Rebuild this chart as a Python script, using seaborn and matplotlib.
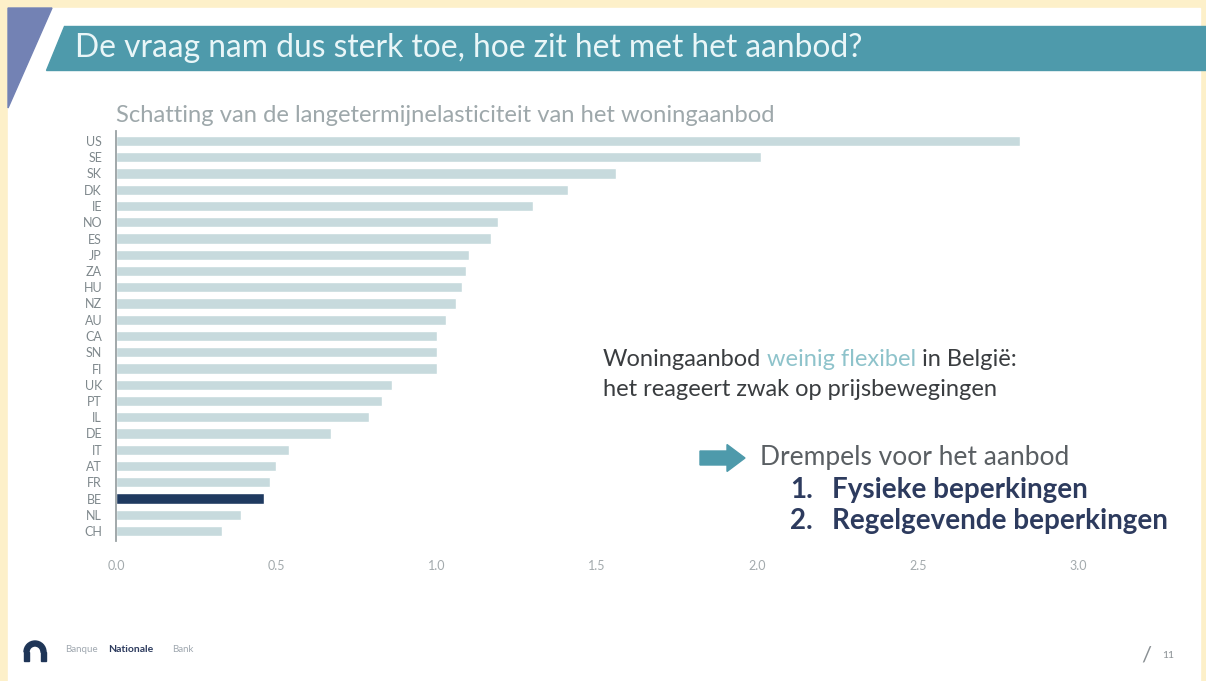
import matplotlib
matplotlib.use("Agg")
import matplotlib.pyplot as plt
import matplotlib.patches as mpatches
import seaborn as sns
import pandas as pd

# Long-run elasticity of housing supply per country
countries = ["US", "SE", "SK", "DK", "IE", "NO", "ES", "JP", "ZA", "HU", "NZ", "AU", "CA",
             "SN", "FI", "UK", "PT", "IL", "DE", "IT", "AT", "FR", "BE", "NL", "CH"]
elasticity = [2.82, 2.01, 1.56, 1.41, 1.30, 1.19, 1.17, 1.10, 1.09, 1.08, 1.06, 1.03, 1.00,
              1.00, 1.00, 0.86, 0.83, 0.79, 0.67, 0.54, 0.50, 0.48, 0.46, 0.39, 0.33]
x_ticks = [0.0, 0.5, 1.0, 1.5, 2.0, 2.5, 3.0]
x_tick_labels = ["0.0", "0.5", "1.0", "1.5", "2.0", "2.5", "3.0"]
highlight = "BE"

title = "De vraag nam dus sterk toe, hoe zit het met het aanbod?"
subtitle = "Schatting van de langetermijnelasticiteit van het woningaanbod"
note_line1 = [("Woningaanbod ", "#3a3d40"), ("weinig flexibel", "#8ec3cb"), (" in België:", "#3a3d40")]
note_line2 = "het reageert zwak op prijsbewegingen"
barrier_head = "Drempels voor het aanbod"
barriers = ["Fysieke beperkingen", "Regelgevende beperkingen"]

W, H = 1206, 681
sns.set_theme(style="white")
plt.rcParams["font.family"] = ["Lato", "DejaVu Sans"]
NARROW = ["Liberation Sans Narrow", "Lato", "DejaVu Sans"]

fig = plt.figure(figsize=(W / 100, H / 100), dpi=100)
fig.patch.set_facecolor("#fdf0c9")

# Slide background layer in pixel coordinates
bg = fig.add_axes([0, 0, 1, 1], zorder=0)
bg.set_xlim(0, W)
bg.set_ylim(H, 0)
bg.axis("off")
bg.add_patch(mpatches.Rectangle((8, 8), 1192, H - 8, color="white", zorder=0))
bg.add_patch(mpatches.Polygon([(8, 8), (52, 8), (8, 108)], closed=True,
                              color="#7382b4", zorder=1))
bg.add_patch(mpatches.Polygon([(64, 26), (W, 26), (W, 70), (46, 70)], closed=True,
                              color="#4e9aab", zorder=1))

renderer = fig.canvas.get_renderer()


def text_width(s, **kw):
    t = bg.text(0, 0, s, **kw)
    w = t.get_window_extent(renderer).width
    t.remove()
    return w


def fitted_size(s, target_w, size=12, **kw):
    return size * target_w / text_width(s, fontsize=size, **kw)


title_size = fitted_size(title, 785, family=NARROW)
bg.text(75, 48, title, fontsize=title_size, family=NARROW, color="#e9f6f8",
        va="center", ha="left", zorder=2)
sub_size = fitted_size(subtitle, 656)
bg.text(116, 116, subtitle, fontsize=sub_size, color="#9ea8ab", va="center", ha="left", zorder=2)

# Two-colour first note line, drawn run by run
note_size = fitted_size("".join(s for s, _ in note_line1), 413)
note_kw = dict(fontsize=note_size, va="center", ha="left", zorder=2)
space_w = text_width("x x", fontsize=note_size) - text_width("xx", fontsize=note_size)
x = 603
for s, c in note_line1:
    lead = len(s) - len(s.lstrip(" "))
    trail = len(s) - len(s.rstrip(" "))
    x += lead * space_w
    core = s.strip(" ")
    bg.text(x, 360, core, color=c, **note_kw)
    x += text_width(core, fontsize=note_size) + trail * space_w
bg.text(603, 389, note_line2, color="#3a3d40", **note_kw)

# Block arrow and barrier list
bg.add_patch(mpatches.FancyArrow(700, 458, 27, 0, width=14, head_width=27, head_length=18,
                                 length_includes_head=False, color="#4e9aab", zorder=2))
head_size = fitted_size(barrier_head, 308)
bg.text(760, 458, barrier_head, fontsize=head_size, color="#5a5f63", va="center", ha="left", zorder=2)
item_size = fitted_size(barriers[1], 334, fontweight="bold")
for i, item in enumerate(barriers):
    yy = 490 + i * 31
    bg.text(790, yy, f"{i + 1}.", fontsize=item_size, fontweight="bold", color="#2d3b5e",
            va="center", ha="left", zorder=2)
    bg.text(832, yy, item, fontsize=item_size, fontweight="bold", color="#2d3b5e",
            va="center", ha="left", zorder=2)

# Footer: logo and page number
bg.add_patch(mpatches.Wedge((35, 652), 11, 180, 360, width=5, color="#1f3557", zorder=2))
bg.add_patch(mpatches.Rectangle((24, 652), 5, 9, color="#1f3557", zorder=2))
bg.add_patch(mpatches.Rectangle((41, 652), 5, 9, color="#1f3557", zorder=2))
bg.text(65, 650, "Banque", fontsize=7, color="#a0a8b0", va="center", ha="left", zorder=2)
bg.text(108, 650, "Nationale", fontsize=7.5, fontweight="bold", color="#2d3b5e",
        va="center", ha="left", zorder=2)
bg.text(172, 650, "Bank", fontsize=7, color="#a0a8b0", va="center", ha="left", zorder=2)
bg.text(1146, 655, "/", fontsize=16, color="#8a9094", va="center", ha="center", zorder=2)
bg.text(1168, 656, "11", fontsize=7.5, color="#8a9094", va="center", ha="center", zorder=2)

# Bar chart
x0_px, x1_px, px_per_unit = 116, 1171, 320.7
top_px, bot_px = 131.25, 540.75
ax = fig.add_axes([x0_px / W, 1 - bot_px / H, (x1_px - x0_px) / W, (bot_px - top_px) / H], zorder=3)
ax.set_facecolor("none")

df = pd.DataFrame({"country": countries, "elasticity": elasticity})
palette = {c: ("#1f3a60" if c == highlight else "#c7dadd") for c in countries}
sns.barplot(data=df, x="elasticity", y="country", hue="country", palette=palette,
            legend=False, width=0.62, saturation=1, orient="h", ax=ax)

ax.set_xlim(0, (x1_px - x0_px) / px_per_unit)
ax.set_ylim(len(countries) - 0.4, -0.6)
ax.set_xticks(x_ticks)
ax.set_xticklabels(x_tick_labels)
ax.set_xlabel("")
ax.set_ylabel("")
for side in ["top", "right", "bottom"]:
    ax.spines[side].set_visible(False)
ax.spines["left"].set_color("#9aa1a4")
ax.spines["left"].set_linewidth(1.3)
ax.tick_params(axis="x", length=0, pad=14, labelsize=9, labelcolor="#a3aaad")
ax.tick_params(axis="y", length=0, pad=10, labelsize=9, labelcolor="#7f888c")
for lbl in ax.get_xticklabels() + ax.get_yticklabels():
    lbl.set_family(NARROW)

fig.savefig("out.png", dpi=100, facecolor=fig.get_facecolor())
